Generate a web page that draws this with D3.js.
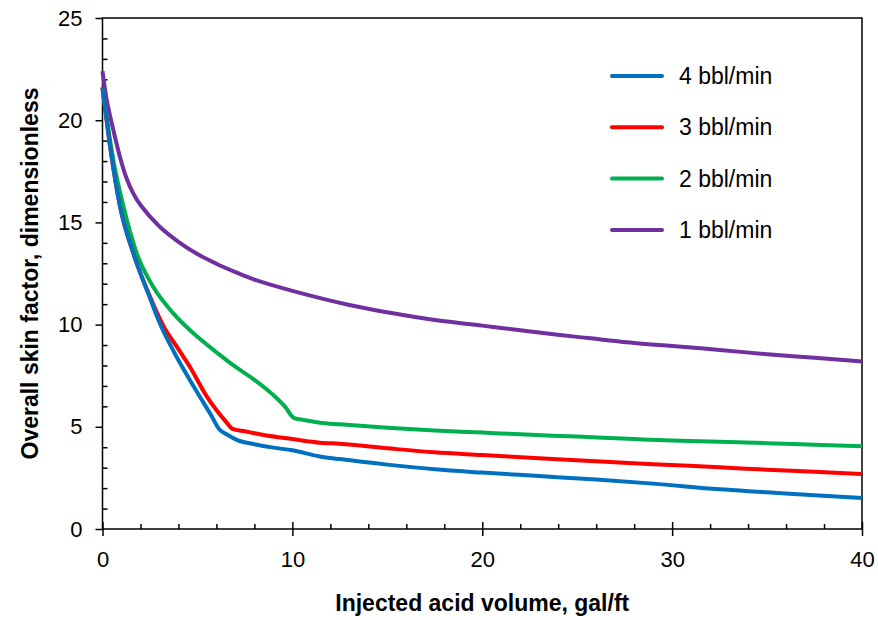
<!DOCTYPE html>
<html>
<head>
<meta charset="utf-8">
<script src="https://cdn.jsdelivr.net/npm/d3@7"></script>
<style>
  body { margin: 0; background: #fff; }
  text { font-family: "Liberation Sans", Arial, sans-serif; }
</style>
</head>
<body>
<script>
// data: injected acid volume (gal/ft) vs overall skin factor
let rate4X = [0, 0.45, 0.92, 1.62, 2.5, 3, 3.9, 4.5, 5.13, 5.7, 6.15, 6.6, 7.1, 8, 9, 10, 11.45, 12.5, 15, 17.5, 20, 23, 26, 29, 32.5, 35, 37.5, 40]
let rate4Y = [21.6, 18.4, 15.8, 13.5, 11.3, 10.1, 8.43, 7.45, 6.47, 5.6, 4.88, 4.6, 4.35, 4.15, 3.98, 3.85, 3.55, 3.42, 3.15, 2.92, 2.76, 2.59, 2.42, 2.22, 1.94, 1.8, 1.65, 1.52]

let rate3X = [0, 0.45, 0.92, 1.62, 2.5, 3.2, 4, 4.6, 5.48, 6, 6.5, 6.85, 7.5, 8.5, 10, 11.45, 12.5, 15, 17.5, 20, 23, 26, 29, 32.5, 35, 37.5, 40]
let rate3Y = [21.6, 18.4, 15.8, 13.5, 11.37, 9.95, 8.8, 7.94, 6.5, 5.82, 5.25, 4.9, 4.78, 4.6, 4.4, 4.22, 4.17, 3.95, 3.75, 3.62, 3.46, 3.32, 3.17, 3.02, 2.9, 2.8, 2.69]

let rate2X = [0, 0.57, 1.1, 1.8, 2.67, 3.73, 5, 6, 6.9, 8, 9, 9.6, 10.1, 10.5, 11.45, 12.5, 15, 17.5, 20, 22, 25, 28, 30, 32.5, 35, 37.5, 40]
let rate2Y = [21.6, 18.05, 15.8, 13.5, 11.85, 10.55, 9.4, 8.65, 8.0, 7.3, 6.55, 6.0, 5.42, 5.35, 5.2, 5.12, 4.95, 4.82, 4.72, 4.63, 4.52, 4.4, 4.33, 4.27, 4.2, 4.12, 4.05]

let rate1X = [0, 0.22, 0.5, 0.92, 1.25, 1.62, 2, 3, 4, 5, 6, 7, 8, 10, 13, 15, 17.5, 20, 22, 25, 28, 30, 32.5, 35, 37.5, 40]
let rate1Y = [22.4, 21.0, 19.8, 18.2, 17.2, 16.42, 15.85, 14.8, 14.05, 13.45, 12.98, 12.57, 12.2, 11.65, 10.96, 10.6, 10.22, 9.95, 9.72, 9.4, 9.1, 8.95, 8.76, 8.55, 8.38, 8.2]

let seriesNames = ["4 bbl/min", "3 bbl/min", "2 bbl/min", "1 bbl/min"]
let seriesColors = ["#0070C0", "#FF0000", "#00B050", "#7030A0"]
let xTicks = [0, 10, 20, 30, 40]
let yTicks = [0, 5, 10, 15, 20, 25]

let width = 878
let height = 620
let margin = { left: 102.5, right: 16, top: 18, bottom: 91 }

let svg = d3.select("body").append("svg")
    .attr("width", width)
    .attr("height", height)

let x = d3.scaleLinear().domain([0, 40]).range([margin.left, width - margin.right])
let y = d3.scaleLinear().domain([0, 25]).range([height - margin.bottom, margin.top])

// box
svg.append("rect")
    .attr("x", x(0)).attr("y", y(25))
    .attr("width", x(40) - x(0)).attr("height", y(0) - y(25))
    .attr("fill", "none").attr("stroke", "#000").attr("stroke-width", 1.5)

// minor ticks (inside)
let xMinor = d3.range(0, 41, 2).filter(d => d % 10 != 0)
svg.append("g").attr("transform", `translate(0,${y(0)})`)
    .call(d3.axisTop(x).tickValues(xMinor).tickSize(5).tickFormat(""))
    .call(g => g.select(".domain").remove())
    .selectAll("line").attr("stroke-width", 1.5)

let yMinor = d3.range(0, 26, 1).filter(d => d % 5 != 0)
svg.append("g").attr("transform", `translate(${x(0)},0)`)
    .call(d3.axisRight(y).tickValues(yMinor).tickSize(5).tickFormat(""))
    .call(g => g.select(".domain").remove())
    .selectAll("line").attr("stroke-width", 1.5)

// major x ticks cross the axis
let xAxis = svg.append("g").attr("transform", `translate(0,${y(0)})`)
    .call(d3.axisBottom(x).tickValues(xTicks).tickSize(7).tickPadding(15))
xAxis.select(".domain").remove()
xAxis.selectAll("line").attr("y1", -7).attr("stroke-width", 1.5)
xAxis.selectAll("text").attr("font-size", 22).attr("fill", "#000")
    .style("font-family", "Liberation Sans, Arial, sans-serif")

let yAxis = svg.append("g").attr("transform", `translate(${x(0)},0)`)
    .call(d3.axisLeft(y).tickValues(yTicks).tickSize(7).tickPadding(13))
yAxis.select(".domain").remove()
yAxis.selectAll("line").attr("stroke-width", 1.5)
yAxis.selectAll("text").attr("font-size", 22).attr("fill", "#000")
    .style("font-family", "Liberation Sans, Arial, sans-serif")

// axis titles
svg.append("text")
    .attr("x", (x(0) + x(40)) / 2).attr("y", 611)
    .attr("text-anchor", "middle")
    .attr("font-size", 23).attr("font-weight", "bold")
    .text("Injected acid volume, gal/ft")

svg.append("text")
    .attr("transform", `translate(38,${(y(0) + y(25)) / 2}) rotate(-90)`)
    .attr("text-anchor", "middle")
    .attr("font-size", 23).attr("font-weight", "bold")
    .text("Overall skin factor, dimensionless")

// lines
let allX = [rate4X, rate3X, rate2X, rate1X]
let allY = [rate4Y, rate3Y, rate2Y, rate1Y]
let line = d3.line()
    .x(d => x(d[0]))
    .y(d => y(d[1]))
    .curve(d3.curveMonotoneX)
// purple curve has no kink, smooth it more
let smoothLine = d3.line()
    .x(d => x(d[0]))
    .y(d => y(d[1]))
    .curve(d3.curveCatmullRom.alpha(0.5))

// draw 1 bbl/min first so 4 bbl/min ends on top
for (let i = 3; i >= 0; i--) {
    let pts = allX[i].map((v, j) => [v, allY[i][j]])
    svg.append("path")
        .datum(pts)
        .attr("d", i == 3 ? smoothLine : line)
        .attr("fill", "none")
        .attr("stroke", seriesColors[i])
        .attr("stroke-width", 4)
        .attr("stroke-linejoin", "round")
}

// legend
let legend = svg.append("g")
seriesNames.forEach((name, i) => {
    let ly = 76 + i * 51.3
    legend.append("line")
        .attr("x1", 612).attr("x2", 662)
        .attr("y1", ly).attr("y2", ly)
        .attr("stroke", seriesColors[i])
        .attr("stroke-width", 4)
        .attr("stroke-linecap", "round")
    legend.append("text")
        .attr("x", 679).attr("y", ly + 8)
        .attr("font-size", 23)
        .text(name)
})
</script>
</body>
</html>
